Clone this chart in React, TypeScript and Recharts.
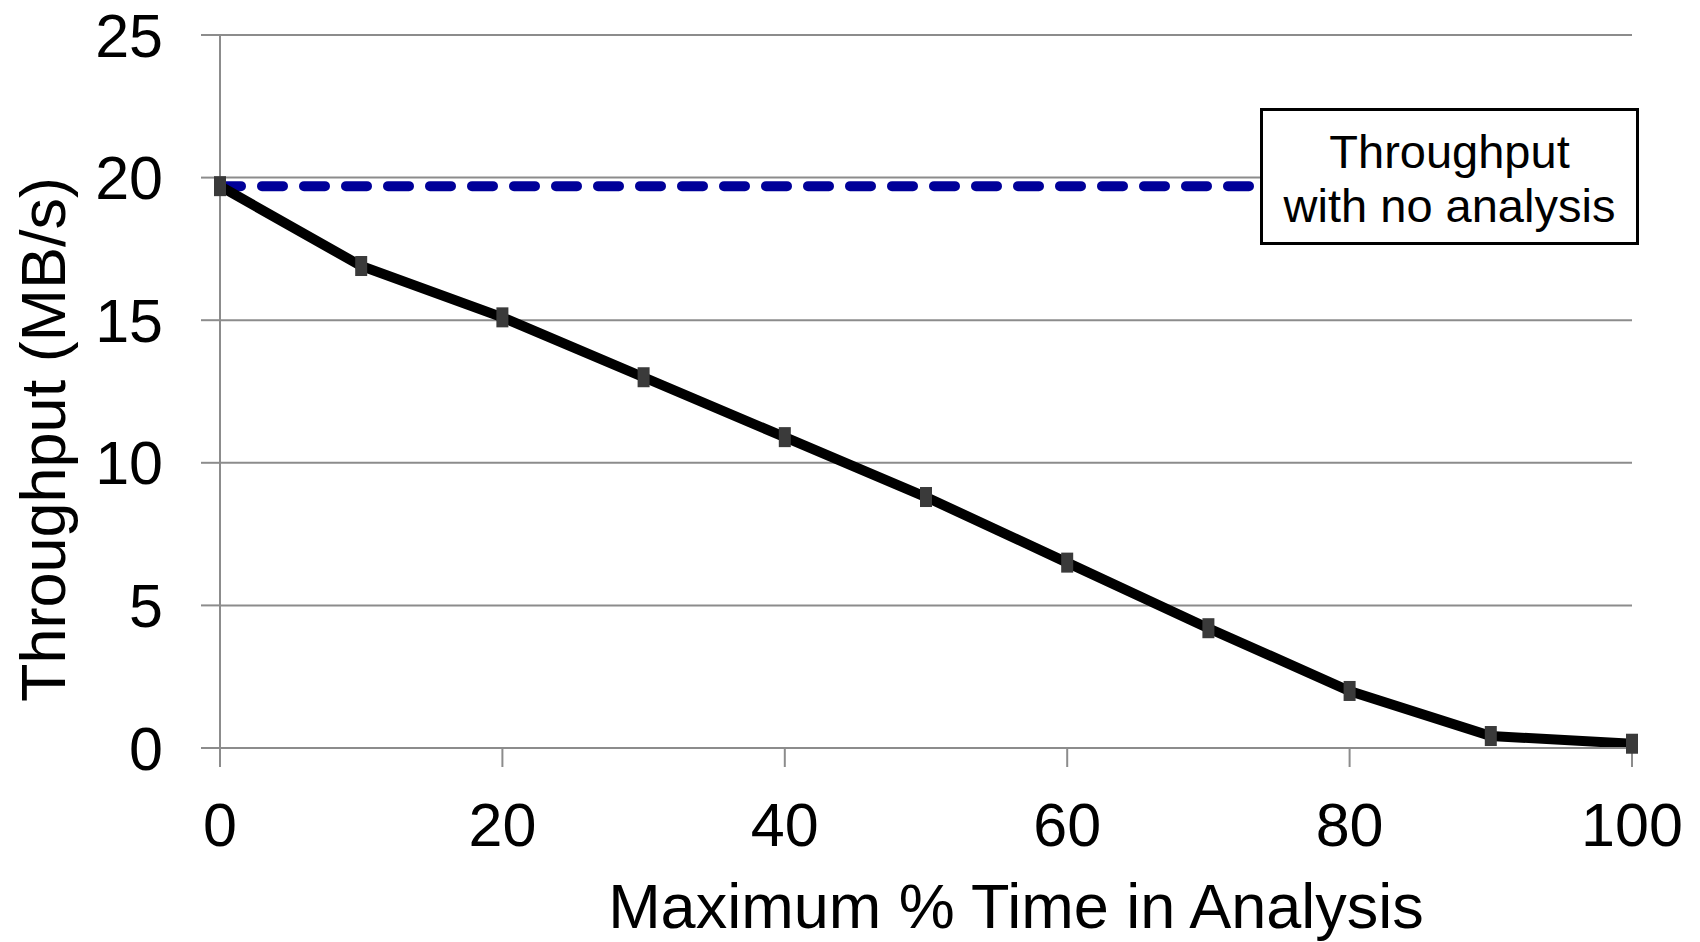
import React from "react";
import { LineChart, Line, XAxis, YAxis, CartesianGrid, ReferenceLine } from "recharts";

const percentTime = [0, 10, 20, 30, 40, 50, 60, 70, 80, 90, 100];
const throughput = [19.7, 16.9, 15.1, 13.0, 10.9, 8.8, 6.5, 4.2, 2.0, 0.42, 0.15];
const noAnalysisThroughput = 19.7;
const xTicks = [0, 20, 40, 60, 80, 100];
const yTicks = [0, 5, 10, 15, 20, 25];
const noteLines = ["Throughput", "with no analysis"];

const data = percentTime.map((x, i) => ({ x, y: throughput[i] }));

const FONT = "'Liberation Sans', Arial, sans-serif";
const GRID = "#8c8c8c";

const Marker = (props: any) => {
  const { cx, cy, index } = props;
  if (cx == null || cy == null) return <g key={`m${index}`} />;
  return <rect key={`m${index}`} x={cx - 6} y={cy - 10} width={12} height={20} fill="#3a3a3a" />;
};

const XTitle = (props: any) => {
  const vb = props.viewBox || {};
  return (
    <text x={vb.x + vb.width / 2 + 90} y={928} textAnchor="middle" fontSize={63} fontFamily={FONT} fill="#000">
      Maximum % Time in Analysis
    </text>
  );
};

const YTitle = (props: any) => {
  const vb = props.viewBox || {};
  const cy = vb.y + vb.height / 2 + 48;
  return (
    <text x={43} y={cy} transform={`rotate(-90, 43, ${cy})`} textAnchor="middle" dominantBaseline="central" fontSize={63} fontFamily={FONT} fill="#000">
      Throughput (MB/s)
    </text>
  );
};

export default function App() {
  return (
    <div style={{ position: "absolute", left: 0, top: 0, width: 1700, height: 942, background: "#fff" }}>
      <LineChart width={1700} height={942} data={data} margin={{ top: 35, right: 68, left: 0, bottom: 0 }}>
        <CartesianGrid vertical={false} stroke={GRID} strokeWidth={2} />
        <XAxis
          dataKey="x"
          type="number"
          domain={[0, 100]}
          ticks={xTicks}
          height={194}
          stroke={GRID}
          strokeWidth={2}
          tickSize={19}
          tickMargin={36}
          tick={{ fill: "#000", fontSize: 61, fontFamily: FONT }}
          label={<XTitle />}
        />
        <YAxis
          type="number"
          domain={[0, 25]}
          ticks={yTicks}
          width={220}
          stroke={GRID}
          strokeWidth={2}
          tickSize={19}
          tickMargin={38}
          tick={{ fill: "#000", fontSize: 61, fontFamily: FONT }}
          label={<YTitle />}
        />
        <ReferenceLine
          y={noAnalysisThroughput}
          stroke="#000099"
          strokeWidth={10}
          strokeDasharray="21 21"
          strokeLinecap="round"
        />
        <Line dataKey="y" stroke="none" dot={Marker} isAnimationActive={false} />
        <Line dataKey="y" stroke="#000" strokeWidth={10} dot={false} isAnimationActive={false} />
      </LineChart>
      <div
        style={{
          position: "absolute",
          left: 1260,
          top: 108,
          width: 379,
          height: 137,
          boxSizing: "border-box",
          border: "3px solid #000",
          background: "#fff",
          display: "flex",
          flexDirection: "column",
          alignItems: "center",
          justifyContent: "center",
          fontFamily: FONT,
          fontSize: 47,
          lineHeight: "54px",
          color: "#000",
          paddingTop: 4,
        }}
      >
        {noteLines.map((l) => (
          <div key={l}>{l}</div>
        ))}
      </div>
    </div>
  );
}
